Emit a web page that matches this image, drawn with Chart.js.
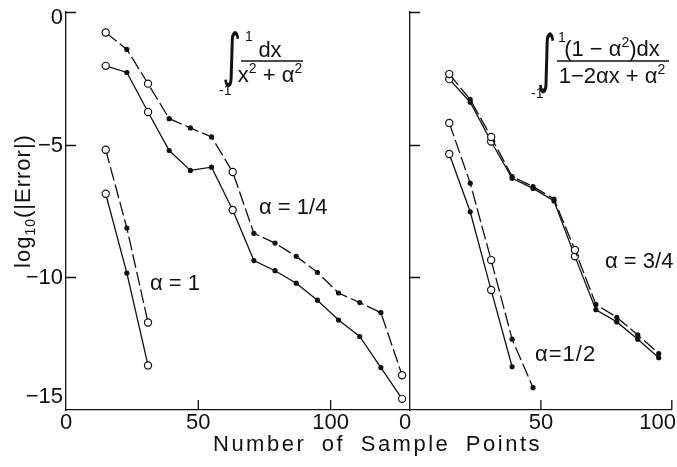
<!DOCTYPE html>
<html><head><meta charset="utf-8">
<script src="https://cdn.jsdelivr.net/npm/chart.js@4/dist/chart.umd.min.js"></script>
<style>
html,body{margin:0;padding:0;background:#fff;}
#wrap{position:relative;width:677px;height:467px;overflow:hidden;background:#fff;}
canvas{position:absolute;left:0;top:0;}
</style></head><body>
<div id="wrap"><canvas id="cl" width="677" height="467"></canvas><canvas id="cr" width="677" height="467"></canvas></div>
<script>
// ---- data ----
const xTicks = [0, 50, 100];
const yTicks = [0, -5, -10, -15];
const openAt = [15, 31, 63, 127];

const xQuarter = [15, 23, 31, 39, 47, 55, 63, 71, 79, 87, 95, 103, 111, 119, 127];
const quarterDashed = [-0.77, -1.41, -2.70, -4.02, -4.37, -4.71, -6.03, -8.34, -8.71, -9.21, -9.81, -10.59, -10.95, -11.33, -13.69];
const quarterSolid  = [-2.03, -2.28, -3.77, -5.22, -5.97, -5.85, -7.46, -9.37, -9.75, -10.22, -10.86, -11.61, -12.23, -13.40, -14.58];

const xOne = [15, 23, 31];
const oneDashed = [-5.19, -8.14, -11.70];
const oneSolid  = [-6.85, -9.84, -13.32];

const xThreeQ = [15, 23, 31, 39, 47, 55, 63, 71, 79, 87, 95];
const threeQDashed = [-2.34, -3.30, -4.71, -6.20, -6.58, -7.05, -8.97, -11.02, -11.51, -12.17, -12.87];
const threeQSolid  = [-2.53, -3.40, -4.88, -6.27, -6.65, -7.12, -9.21, -11.22, -11.68, -12.33, -13.03];

const xHalfDashed = [15, 23, 31, 39, 47];
const halfDashed = [-4.18, -6.45, -9.35, -12.33, -14.16];
const xHalfSolid = [15, 23, 31, 39];
const halfSolid  = [-5.35, -7.53, -10.48, -13.37];

const xLeftMax = 130, xRightMax = 100;

// ---- style ----
const FONT = '"Liberation Sans", Arial, sans-serif';
const INK = '#111';

function isOpen(c) { return c.raw && openAt.includes(c.raw.x); }
function series(xs, ys, dashed) {
  return {
    data: xs.map((x, i) => ({ x: x, y: ys[i] })),
    borderColor: INK, borderWidth: 1.3, borderDash: dashed ? [14, 4] : [],
    pointRadius: c => isOpen(c) ? 3.6 : 2.0,
    pointBackgroundColor: c => isOpen(c) ? '#fff' : INK,
    pointBorderColor: INK, pointBorderWidth: 1.2,
    fill: false, tension: 0, clip: false
  };
}

function scales(xMax, yWidth) {
  const border = { display: true, color: INK, width: 1.3 };
  const grid = { drawOnChartArea: false, drawTicks: false };
  return {
    x: { type: 'linear', min: 0, max: xMax, position: 'bottom',
      afterBuildTicks: s => { s.ticks = xTicks.filter(v => v <= xMax).map(v => ({ value: v })); },
      afterFit: s => { s.height = 57; s.paddingLeft = 0; s.paddingRight = 0; },
      ticks: { display: false }, grid: grid, border: border },
    y: { type: 'linear', min: -15, max: 0, position: 'left',
      afterBuildTicks: s => { s.ticks = yTicks.map(v => ({ value: v })); },
      afterFit: s => { s.width = yWidth; s.paddingTop = 0; s.paddingBottom = 0; },
      ticks: { display: false }, grid: grid, border: border }
  };
}

function setFont(ctx, size, fam) { ctx.font = size + 'px ' + (fam || FONT); }

// rich text run: parts = [[text, kind]], kind '' | 'sup' | 'sub'
function runParts(ctx, parts, size) {
  let w = 0; const out = [];
  for (const [t, k] of parts) {
    const s = k ? Math.round(size * 0.64) : size;
    setFont(ctx, s);
    const m = ctx.measureText(t).width;
    out.push({ t, k, s, m }); w += m;
  }
  return { out, w };
}
function drawRun(ctx, parts, x, y, size, align) {
  const r = runParts(ctx, parts, size);
  let cx = align === 'center' ? x - r.w / 2 : (align === 'right' ? x - r.w : x);
  ctx.textAlign = 'left'; ctx.textBaseline = 'alphabetic';
  for (const p of r.out) {
    setFont(ctx, p.s);
    const dy = p.k === 'sup' ? -size * 0.40 : (p.k === 'sub' ? size * 0.22 : 0);
    ctx.fillText(p.t, cx, y + dy);
    cx += p.m;
  }
  return r.w;
}
// integral sign as text, stretched to fill [top,bottom]
function drawIntegral(ctx, cx, top, bottom) {
  ctx.save();
  const fs = 26;
  setFont(ctx, fs, '"DejaVu Sans", sans-serif');
  ctx.textAlign = 'left'; ctx.textBaseline = 'alphabetic';
  const m = ctx.measureText('\u222B');
  const gh = m.actualBoundingBoxAscent + m.actualBoundingBoxDescent;
  const gw = m.actualBoundingBoxLeft + m.actualBoundingBoxRight;
  const sy = (bottom - top) / gh;
  const sx = 17 / gw;
  ctx.translate(cx, top);
  ctx.scale(sx, sy);
  ctx.fillText('\u222B', -gw / 2 + m.actualBoundingBoxLeft, m.actualBoundingBoxAscent);
  ctx.restore();
}

function inwardTicks(chart, yList) {
  const ctx = chart.ctx, a = chart.chartArea;
  const xs = chart.scales.x, ys = chart.scales.y;
  ctx.save(); ctx.strokeStyle = INK; ctx.lineWidth = 1.3;
  ctx.beginPath();
  for (const v of yList) { const py = Math.round(ys.getPixelForValue(v)) + 0.5; ctx.moveTo(a.left, py); ctx.lineTo(a.left + 10, py); }
  for (const v of xTicks) { if (v === 0 || v > xs.max) continue; const px = xs.getPixelForValue(v); ctx.moveTo(px, a.bottom); ctx.lineTo(px, a.bottom - 10); }
  ctx.stroke(); ctx.restore();
}

const leftDecor = {
  id: 'leftDecor',
  afterDraw(chart) {
    const ctx = chart.ctx, a = chart.chartArea, xs = chart.scales.x, ys = chart.scales.y;
    inwardTicks(chart, [0, -5, -10]);
    ctx.save(); ctx.fillStyle = INK;
    // y tick labels
    setFont(ctx, 22); ctx.textAlign = 'right'; ctx.textBaseline = 'middle';
    for (const v of yTicks) {
      let py = ys.getPixelForValue(v);
      py = Math.min(Math.max(py, a.top + 5), a.bottom - 14);
      ctx.fillText(v < 0 ? '\u2212' + Math.abs(v) : String(v), a.left - 3, py + 1);
    }
    // x tick labels
    ctx.textAlign = 'center'; ctx.textBaseline = 'alphabetic';
    for (const v of xTicks) ctx.fillText(String(v), xs.getPixelForValue(v), a.bottom + 19);
    // y title
    ctx.save();
    ctx.translate(30, 201); ctx.rotate(-Math.PI / 2);
    ctx.letterSpacing = '1px';
    drawRun(ctx, [['log', ''], ['10', 'sub'], ['(|Error|)', '']], 0, 0, 22, 'center');
    ctx.restore();
    // formula
    drawIntegral(ctx, 232, 30, 88);
    drawRun(ctx, [['1', '']], 245, 41, 14, 'left');
    drawRun(ctx, [['-1', '']], 219, 95, 14, 'left');
    drawRun(ctx, [['dx', '']], 270, 57, 22, 'center');
    ctx.strokeStyle = INK; ctx.lineWidth = 1.3;
    ctx.beginPath(); ctx.moveTo(241, 61); ctx.lineTo(303, 61); ctx.stroke();
    drawRun(ctx, [['x', ''], ['2', 'sup'], [' + ', ''], ['\u03B1', ''], ['2', 'sup']], 270, 82, 22, 'center');
    // labels
    drawRun(ctx, [['\u03B1 = 1/4', '']], 259, 214, 22, 'left');
    drawRun(ctx, [['\u03B1 = 1', '']], 150, 290, 22, 'left');
    ctx.restore();
  }
};

const rightDecor = {
  id: 'rightDecor',
  afterDraw(chart) {
    const ctx = chart.ctx, a = chart.chartArea, xs = chart.scales.x;
    inwardTicks(chart, [0, -5, -10]);
    ctx.save(); ctx.fillStyle = INK;
    setFont(ctx, 22); ctx.textAlign = 'center'; ctx.textBaseline = 'alphabetic';
    xTicks.forEach((v, i) => {
      const t = String(v);
      const w = ctx.measureText(t).width;
      let px = xs.getPixelForValue(v);
      if (i === 0) px -= 5;
      px = Math.min(px, chart.width - w / 2 - 1);
      ctx.fillText(t, px, a.bottom + 19);
    });
    // x title spread over both panels
    const words = ['Number', 'of', 'Sample', 'Points'];
    setFont(ctx, 22); ctx.letterSpacing = '2.5px'; ctx.textAlign = 'left';
    const ws = words.map(w => ctx.measureText(w).width);
    const x0 = 213, x1 = 542;
    const gap = (x1 - x0 - ws.reduce((p, c) => p + c, 0)) / (words.length - 1);
    let cx = x0;
    words.forEach((w, i) => { ctx.fillText(w, cx, 451); cx += ws[i] + gap; });
    ctx.letterSpacing = '0px';
    // formula
    drawIntegral(ctx, 547, 32, 95);
    drawRun(ctx, [['1', '']], 558, 42, 14, 'left');
    drawRun(ctx, [['-1', '']], 531, 98, 14, 'left');
    drawRun(ctx, [['(1 \u2212 \u03B1', ''], ['2', 'sup'], [')dx', '']], 612, 56, 22, 'center');
    ctx.strokeStyle = INK; ctx.lineWidth = 1.3;
    ctx.beginPath(); ctx.moveTo(557, 61); ctx.lineTo(669, 61); ctx.stroke();
    drawRun(ctx, [['1\u22122\u03B1x + \u03B1', ''], ['2', 'sup']], 612, 83, 22, 'center');
    // labels
    drawRun(ctx, [['\u03B1 = 3/4', '']], 605, 268, 22, 'left');
    ctx.letterSpacing = '1px';
    drawRun(ctx, [['\u03B1=1/2', '']], 535, 361, 22, 'left');
    ctx.restore();
  }
};

const common = { responsive: false, animation: false, events: [],
  plugins: { legend: { display: false }, tooltip: { enabled: false }, title: { display: false } } };

new Chart(document.getElementById('cl'), {
  type: 'line',
  data: { datasets: [
    series(xQuarter, quarterDashed, true),
    series(xQuarter, quarterSolid, false),
    series(xOne, oneDashed, true),
    series(xOne, oneSolid, false)
  ] },
  options: Object.assign({}, common, {
    layout: { padding: { left: 0, right: 267, top: 12, bottom: 0 } },
    scales: scales(xLeftMax, 66)
  }),
  plugins: [leftDecor]
});

new Chart(document.getElementById('cr'), {
  type: 'line',
  data: { datasets: [
    series(xThreeQ, threeQDashed, true),
    series(xThreeQ, threeQSolid, false),
    series(xHalfDashed, halfDashed, true),
    series(xHalfSolid, halfSolid, false)
  ] },
  options: Object.assign({}, common, {
    layout: { padding: { left: 410, right: 2, top: 12, bottom: 0 } },
    scales: scales(xRightMax, 0)
  }),
  plugins: [rightDecor]
});
</script>
</body></html>
